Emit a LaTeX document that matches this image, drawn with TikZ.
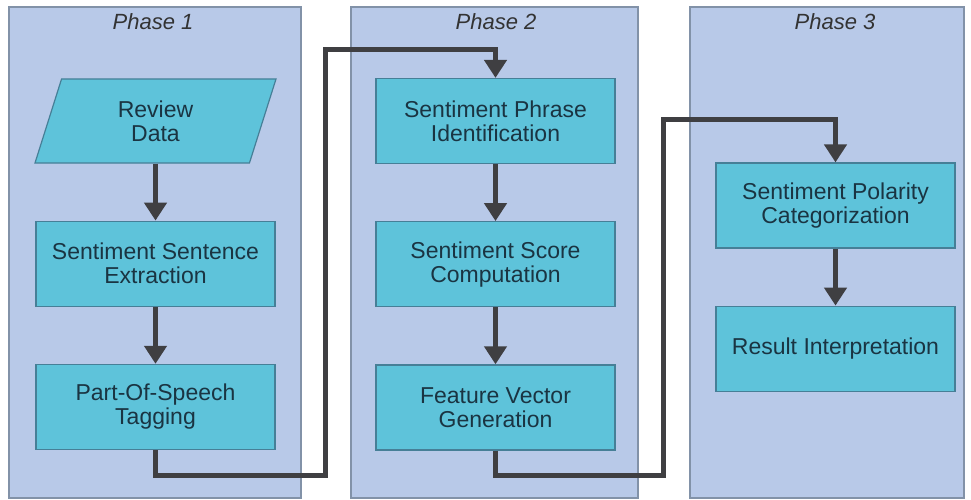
\documentclass[tikz,border=0pt]{standalone}
\usepackage{fontspec}
\setmainfont{Liberation Sans}
\usetikzlibrary{positioning,shapes.geometric,arrows.meta}

\definecolor{panelfill}{HTML}{B8C9E8}
\definecolor{panelline}{HTML}{8292A8}
\definecolor{boxfill}{HTML}{5EC3DA}
\definecolor{boxline}{HTML}{467F97}
\definecolor{boxtext}{HTML}{1A3442}
\definecolor{arrowc}{HTML}{3F3F42}

\begin{document}
\begin{tikzpicture}[x=1pt, y=-1pt, node distance=57pt,
  panel/.style={draw=panelline, fill=panelfill, line width=1.5pt},
  phase/.style={text=black!80, font=\fontsize{22}{24}\selectfont\itshape},
  stepbox/.style={draw=boxline, fill=boxfill, line width=1.2pt, minimum width=239pt,
    minimum height=85pt, align=center, text=boxtext, inner sep=0pt,
    font=\fontsize{23}{24}\selectfont},
  databox/.style={stepbox, trapezium, trapezium left angle=57, trapezium right angle=123,
    trapezium stretches body, minimum width=241pt, minimum height=84pt},
  flow/.style={draw=arrowc, line width=5pt, -{Triangle[width=22pt,length=18pt]}}]
  \fill[white] (0,0) rectangle (971,500);
  \useasboundingbox (0,0) rectangle (971,500);

  % phases
  \draw[panel] (9,7) rectangle (301,498);
  \draw[panel] (351,7) rectangle (638,498);
  \draw[panel] (690,7) rectangle (964,498);
  \node[phase] (ph1) at (153,22) {Phase 1};
  \node[phase] (ph2) at (496,22) {Phase 2};
  \node[phase] (ph3) at (835,22) {Phase 3};

  % phase 1
  \node[databox] (review) at (155.5,121) {Review\\Data};
  \node[stepbox, below=of review] (sentence) {Sentiment Sentence\\Extraction};
  \node[stepbox, below=of sentence] (pos) {Part-Of-Speech\\Tagging};

  % phase 2
  \node[stepbox] (phrase) at (495.5,121) {Sentiment Phrase\\Identification};
  \node[stepbox, below=of phrase] (score) {Sentiment Score\\Computation};
  \node[stepbox, below=of score] (feature) {Feature Vector\\Generation};

  % phase 3
  \node[stepbox] (polarity) at (835.5,205.5) {Sentiment Polarity\\Categorization};
  \node[stepbox, below=of polarity] (result) {Result Interpretation};

  \coordinate (j1) at (325,475);
  \coordinate (j2) at (325,50);
  \coordinate (j3) at (663,475);
  \coordinate (j4) at (663,120);

  \draw[flow] (review.south) -- (sentence);
  \draw[flow] (sentence) -- (pos);
  \draw[flow] (phrase) -- (score);
  \draw[flow] (score) -- (feature);
  \draw[flow] (polarity) -- (result);
  \draw[flow] (pos.south) |- (j1) -- (j2) -| (phrase.north);
  \draw[flow] (feature.south) |- (j3) -- (j4) -| (polarity.north);
\end{tikzpicture}
\end{document}
